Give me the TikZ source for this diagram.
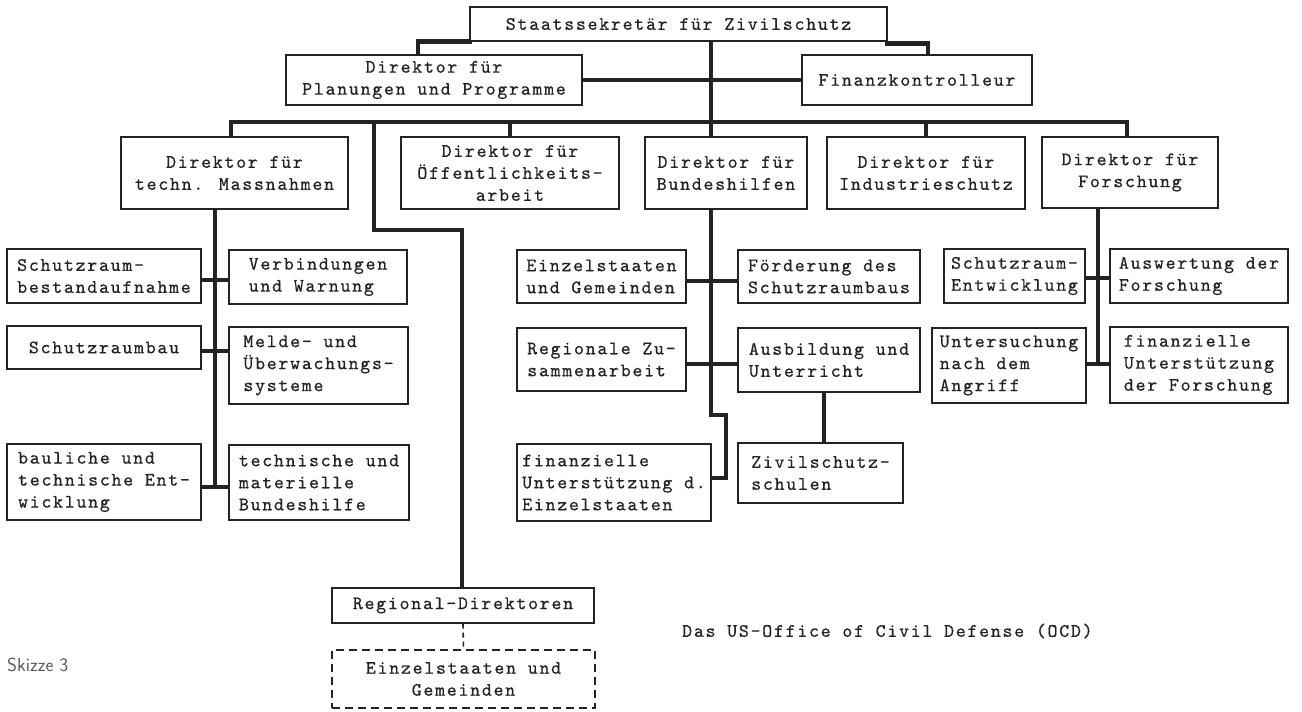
\documentclass[tikz,border=0pt]{standalone}
\usepackage{fontspec}
\usetikzlibrary{backgrounds}
\newfontfamily\twfam{lmmono10-regular.otf}[LetterSpace=9, FakeBold=0.5]
\newcommand\twfont{\twfam\fontsize{19}{22}\selectfont}
\definecolor{ink}{RGB}{35,35,35}
\definecolor{skgray}{RGB}{90,90,90}
\tikzset{
  box/.style={draw=ink, line width=1.4pt, fill=white, inner sep=0pt, align=center, font=\twfont, text=ink},
  lbox/.style={box, align=left},
  conn/.style={draw=ink, line width=4.5pt, line cap=rect, line join=miter},
  dashconn/.style={draw=ink, line width=1.6pt, dash pattern=on 5pt off 4pt},
  dbox/.style={box, draw=ink, line width=1.5pt, dash pattern=on 8pt off 5pt},
}
\begin{document}
\begin{tikzpicture}[x=1pt,y=-1pt]
\useasboundingbox (0,0) rectangle (1302,712);
% top
\node[box, minimum width=417, minimum height=34] (staats) at (678.5,24) {Staatssekretär für Zivilschutz};
\node[box, minimum width=296, minimum height=50] (plan) at (434,80) {Direktor für\\Planungen und Programme};
\node[box, minimum width=230, minimum height=50] (finanz) at (917,80) {Finanzkontrolleur};
% second row
\node[box, minimum width=227, minimum height=72] (techn) at (234.5,173) {Direktor für\\techn. Massnahmen};
\node[box, minimum width=218, minimum height=72] (oeff) at (510,173) {Direktor für\\Öffentlichkeits-\\arbeit};
\node[box, minimum width=162, minimum height=72] (bund) at (726,173) {Direktor für\\Bundeshilfen};
\node[box, minimum width=198, minimum height=72] (indu) at (926,173) {Direktor für\\Industrieschutz};
\node[box, minimum width=176, minimum height=71] (forsch) at (1130,172.5) {Direktor für\\Forschung};
% left column
\node[lbox, minimum width=194, minimum height=54] (L1) at (104,276) {Schutzraum-\\bestandaufnahme};
\node[lbox, minimum width=178, minimum height=54] (R1) at (318,277) {Verbindungen\\und Warnung};
\node[lbox, minimum width=194, minimum height=43] (L2) at (104,347.5) {Schutzraumbau};
\node[lbox, minimum width=179, minimum height=77] (R2) at (318.5,365.5) {Melde- und\\Überwachungs-\\systeme};
\node[lbox, minimum width=194, minimum height=76] (L3) at (104,482) {bauliche und\\technische Ent-\\wicklung};
\node[lbox, minimum width=180, minimum height=75] (R3) at (319,482.5) {technische und\\materielle\\Bundeshilfe};
% middle column
\node[lbox, minimum width=169, minimum height=53] (M1) at (601.5,276.5) {Einzelstaaten\\und Gemeinden};
\node[lbox, minimum width=182, minimum height=53] (M2) at (829,276.5) {Förderung des\\Schutzraumbaus};
\node[lbox, minimum width=169, minimum height=63] (M3) at (601.5,359.5) {Regionale Zu-\\sammenarbeit};
\node[lbox, minimum width=182, minimum height=64] (M4) at (829,360) {Ausbildung und\\Unterricht};
\node[lbox, minimum width=194, minimum height=77] (M5) at (614,482.5) {finanzielle\\Unterstützung d.\\Einzelstaaten};
\node[lbox, minimum width=165, minimum height=60] (M6) at (820.5,473) {Zivilschutz-\\schulen};
% right column
\node[lbox, minimum width=141, minimum height=54] (F1) at (1014.5,276) {Schutzraum-\\Entwicklung};
\node[lbox, minimum width=178, minimum height=54] (F2) at (1199,276) {Auswertung der\\Forschung};
\node[lbox, minimum width=154, minimum height=75] (F3) at (1009,365.5) {Untersuchung\\nach dem\\Angriff};
\node[lbox, minimum width=178, minimum height=76] (F4) at (1199,365) {finanzielle\\Unterstützung\\der Forschung};
% bottom
\node[box, minimum width=262, minimum height=35] (reg) at (463,605.5) {Regional-Direktoren};
\node[dbox, minimum width=263, minimum height=58] (dash) at (463.5,679) {Einzelstaaten und\\Gemeinden};
\node[anchor=west, font=\twfont, text=ink, inner sep=0pt] (title) at (682,631) {Das US-Office of Civil Defense (OCD)};
\node[anchor=west, font=\sffamily\fontsize{19}{22}\selectfont, text=skgray, inner sep=0pt] (skizze) at (7,665) {Skizze 3};
% connectors
\coordinate (barL) at (231,122);
\coordinate (barR) at (1127,122);
\coordinate (mid) at (711,122);
\coordinate (rj) at (374,122);
\coordinate (lc) at (215,0);
\coordinate (rc) at (1098,0);
\coordinate (zc) at (824,0);
\begin{pgfonlayer}{background}
\draw[conn] (staats.south west) -| ([xshift=-16pt]plan.north);
\draw[conn] ([yshift=-2pt]staats.south east) -| ([xshift=11pt]finanz.north);
\draw[conn] (staats.south -| mid) -- (bund.north -| mid);
\draw[conn] (plan.east) -- (finanz.west);
\draw[conn] (barL) -- (barR);
\draw[conn] (barL) -- (techn.north -| barL);
\draw[conn] (oeff.north |- barL) -- (oeff.north);
\draw[conn] (indu.north |- barL) -- (indu.north);
\draw[conn] (barR) -- (forsch.north -| barR);
\draw[conn] (rj) -- (rj |- 0,230) -| ([xshift=-1pt]reg.north);
% left column
\draw[conn] (techn.south -| lc) -- (lc |- 0,487);
\draw[conn] (L1.east |- 0,280) -- (R1.west |- 0,280);
\draw[conn] (L2.east |- 0,351) -- (R2.west |- 0,351);
\draw[conn] (L3.east |- 0,487) -- (R3.west |- 0,487);
% middle column
\draw[conn] (bund.south -| mid) -- (mid |- 0,415) -- (726,415) -- (726,478) -- (M5.east |- 0,478);
\draw[conn] (M1.east |- 0,281) -- (M2.west |- 0,281);
\draw[conn] (M3.east |- 0,364) -- (M4.west |- 0,364);
\draw[conn] (M4.south -| zc) -- (M6.north -| zc);
% right column
\draw[conn] (forsch.south -| rc) -- (rc |- 0,364);
\draw[conn] (F1.east |- 0,278) -- (F2.west |- 0,278);
\draw[conn] (F3.east |- 0,364) -- (F4.west |- 0,364);
\end{pgfonlayer}
\draw[dashconn] (reg.south) -- (dash.north);
\end{tikzpicture}
\end{document}
